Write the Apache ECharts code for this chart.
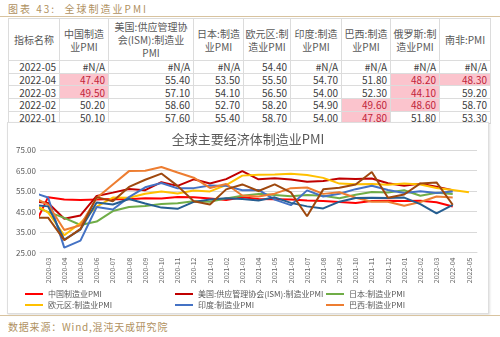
<!DOCTYPE html>
<html>
<head>
<meta charset="utf-8">
<script src="https://cdn.jsdelivr.net/npm/echarts@6/dist/echarts.min.js"></script>
<style>
  html, body { margin: 0; padding: 0; }
  body { width: 500px; height: 337px; background: #fff; position: relative; overflow: hidden;
         font-family: "Noto Sans CJK SC", "Noto Sans", sans-serif; }
  #fig-title { position: absolute; left: 8px; top: 1px; font-size: 10px; letter-spacing: 2px; color: #b0915f; white-space: nowrap; }
  .hline { position: absolute; left: 0; width: 500px; height: 1px; background: #d8c39f; }
  #tbl { position: absolute; left: 8px; top: 18px; border-collapse: collapse; table-layout: fixed; }
  #tbl td, #tbl th { border: 1px solid #dcdcdc; padding: 0 3px; font-size: 10px; color: #404040; overflow: hidden; white-space: nowrap; box-sizing: border-box; }
  #tbl th { font-weight: normal; color: #595959; text-align: center; line-height: 13px; height: 42px; white-space: normal; padding: 0 1px; }
  #tbl td { text-align: right; height: 12.7px; line-height: 11px; }
  #tbl td.hl { background: #fbc4cd; color: #c0243a; }
  #card { position: absolute; left: 7px; top: 122px; width: 480px; height: 190px; border: 1px solid #dedede;
          box-shadow: 1px 1px 2px rgba(0,0,0,0.12); background: #fff; }
  #chart { width: 480px; height: 190px; }
  #source { position: absolute; left: 8px; top: 319px; font-size: 10px; letter-spacing: 0.8px; color: #b0915f; white-space: nowrap; }
</style>
</head>
<body>
<div id="fig-title">图表 43:&nbsp;&nbsp;全球制造业PMI</div>
<div class="hline" style="top:16px"></div>
<table id="tbl"></table>
<div id="card"><div id="chart"></div></div>
<div class="hline" style="top:315px"></div>
<div id="source">数据来源：Wind,混沌天成研究院</div>
<script>
// ---- data (first month 2020-02 lies just outside the visible range and is clipped) ----
const months = ['2020-02','2020-03','2020-04','2020-05','2020-06','2020-07','2020-08','2020-09','2020-10','2020-11','2020-12',
                '2021-01','2021-02','2021-03','2021-04','2021-05','2021-06','2021-07','2021-08','2021-09','2021-10','2021-11','2021-12',
                '2022-01','2022-02','2022-03','2022-04','2022-05'];
const seriesNames = ['中国制造业PMI','美国:供应管理协会(ISM):制造业PMI','日本:制造业PMI','欧元区:制造业PMI',
                     '印度:制造业PMI','巴西:制造业PMI','俄罗斯:制造业PMI','南非:PMI'];
const headerLabels = ['指标名称','中国制造<br>业PMI','美国:供应管理协<br>会(ISM):制造业<br>PMI','日本:制造<br>业PMI',
                      '欧元区:制<br>造业PMI','印度:制造<br>业PMI','巴西:制造<br>业PMI','俄罗斯:制<br>造业PMI','南非:PMI'];
const china  = [35.7,52.0,50.8,50.6,50.9,51.1,51.0,51.5,51.4,52.1,51.9,51.3,50.6,51.9,51.1,51.0,50.9,50.4,50.1,49.6,49.2,50.1,50.3,50.1,50.2,49.5,47.4,null];
const usa    = [50.1,49.1,41.5,43.1,52.6,54.2,56.0,55.4,59.3,57.5,60.7,58.7,60.8,64.7,60.7,61.2,60.6,59.5,59.9,61.1,60.8,61.1,58.8,57.6,58.6,57.1,55.4,null];
const japan  = [47.8,44.8,41.9,38.4,40.1,45.2,47.2,47.7,48.7,49.0,50.0,49.8,51.4,52.7,53.6,53.0,52.4,53.0,52.7,51.5,53.2,54.5,54.3,55.4,52.7,54.1,53.5,null];
const euro   = [49.2,44.5,33.4,39.4,47.4,51.8,51.7,53.7,54.8,53.8,55.2,54.8,57.9,62.5,62.9,63.1,63.4,62.8,61.4,58.6,58.3,58.4,58.0,58.7,58.2,56.5,55.5,54.4];
const india  = [54.5,51.8,27.4,30.8,47.2,46.0,52.0,56.8,58.9,56.3,56.4,57.7,57.5,55.4,55.5,50.8,48.1,55.3,52.3,53.7,55.9,57.6,55.5,54.0,54.9,54.0,54.7,null];
const brazil = [52.3,48.4,36.0,38.3,51.6,58.2,64.7,64.9,66.7,64.0,61.5,56.5,58.4,52.8,52.3,53.7,56.4,56.7,53.6,54.4,51.7,49.8,49.8,47.8,49.6,52.3,51.8,null];
const russia = [48.2,47.5,31.3,36.2,49.4,48.4,51.1,48.9,46.9,46.3,49.7,50.9,51.5,51.1,50.4,51.9,49.2,47.5,46.5,49.8,51.6,51.7,51.6,51.8,48.6,44.1,48.2,null];
const safrica= [42.0,42.0,31.0,36.5,52.0,50.0,57.0,60.5,63.5,57.5,50.0,48.4,55.8,58.2,55.0,58.2,54.3,42.7,55.8,56.6,58.2,64.3,51.7,53.3,58.7,59.2,48.3,null];
const yTicks = [25, 35, 45, 55, 65, 75];
const tableMonths = ['2022-05','2022-04','2022-03','2022-02','2022-01'];

const allSeries = [china, usa, japan, euro, india, brazil, russia, safrica];
const colors = ['#ff0000','#c00000','#70ad47','#ffc000','#4472c4','#ed7d31','#255e91','#9e480e'];

// ---- table ----
const colWidths = [51,49,85,50,47,51,49,49,51];
const tbl = document.getElementById('tbl');
let html = '<colgroup>' + colWidths.map(w => '<col style="width:' + w + 'px">').join('') + '</colgroup>';
html += '<tr>' + headerLabels.map(h => '<th>' + h + '</th>').join('') + '</tr>';
tableMonths.forEach(m => {
  const idx = months.indexOf(m);
  html += '<tr><td>' + m + '</td>';
  allSeries.forEach(arr => {
    const v = arr[idx];
    if (v == null) html += '<td>#N/A</td>';
    else html += '<td class="' + (v < 50 ? 'hl' : '') + '">' + v.toFixed(2) + '</td>';
  });
  html += '</tr>';
});
tbl.innerHTML = html;

// ---- chart ----
const chart = echarts.init(document.getElementById('chart'), null, { renderer: 'canvas' });
const legendBase = {
  orient: 'vertical', itemWidth: 18, itemHeight: 2, itemGap: 3, icon: 'rect',
  textStyle: { fontSize: 8, color: '#595959', fontFamily: 'Noto Sans CJK SC' }, padding: 0
};
chart.setOption({
  animation: false,
  color: colors,
  title: { text: '全球主要经济体制造业PMI', left: 'center', top: 5,
           textStyle: { fontSize: 13, color: '#595959', fontWeight: 'normal', fontFamily: 'Noto Sans CJK SC' } },
  grid: { left: 32, right: 11, top: 27, bottom: 60.5, containLabel: false },
  legend: [
    Object.assign({}, legendBase, { left: 17, top: 167, data: [seriesNames[0], seriesNames[3]] }),
    Object.assign({}, legendBase, { left: 167, top: 167, data: [seriesNames[1], seriesNames[4]] }),
    Object.assign({}, legendBase, { left: 318, top: 167, data: [seriesNames[2], seriesNames[5]] })
  ],
  xAxis: [
    { type: 'category', data: months.slice(1), boundaryGap: true,
      axisLabel: { rotate: 90, fontSize: 7, color: '#666666', interval: 0, margin: 5, fontFamily: 'Noto Sans CJK SC' },
      axisTick: { show: false }, axisLine: { lineStyle: { color: '#d9d9d9' } }, splitLine: { show: false } },
    { type: 'value', min: 0.5, max: months.length - 0.5, show: false }
  ],
  yAxis: {
    type: 'value', min: yTicks[0], max: yTicks[yTicks.length - 1], interval: 10,
    axisLine: { show: false }, axisTick: { show: false },
    splitLine: { lineStyle: { color: '#d9d9d9' } },
    axisLabel: { fontSize: 8, color: '#595959', margin: 4, formatter: v => v.toFixed(2), fontFamily: 'Noto Sans CJK SC' }
  },
  series: allSeries.map((arr, k) => ({
    name: seriesNames[k], type: 'line', xAxisIndex: 1, symbol: 'none', smooth: false, clip: true,
    lineStyle: { width: 2, color: colors[k] },
    data: arr.map((v, i) => [i, v]).filter(p => p[1] != null)
  }))
});
</script>
</body>
</html>
